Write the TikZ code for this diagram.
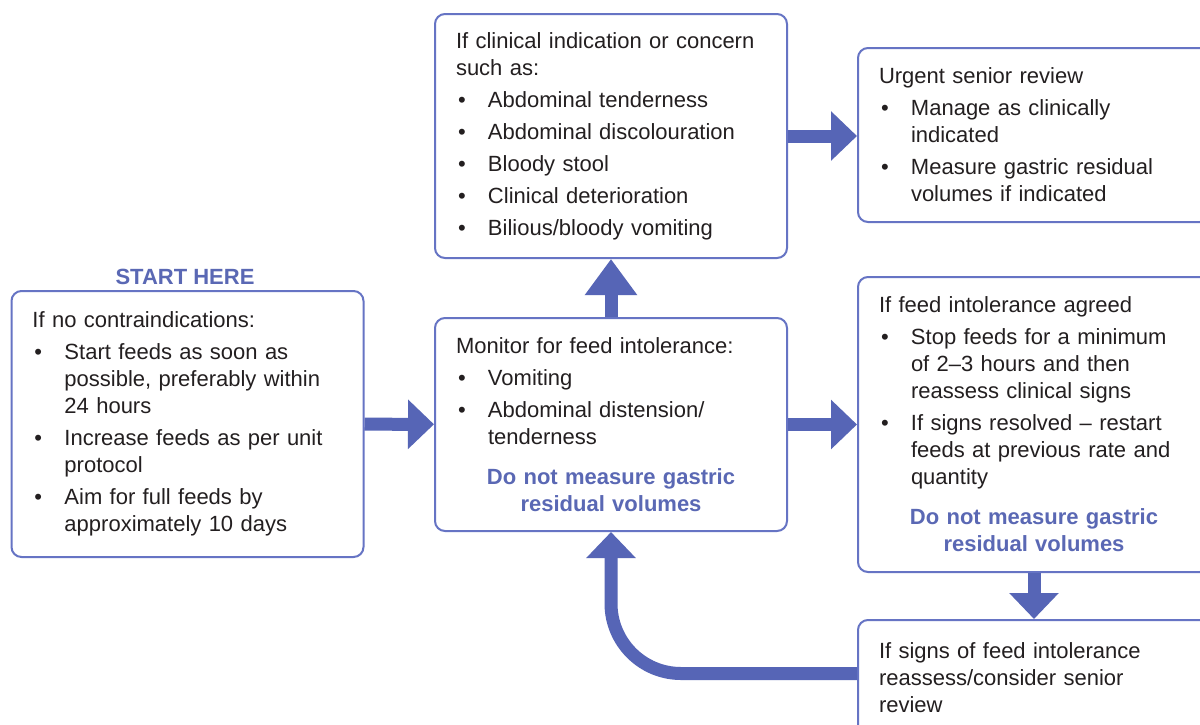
\documentclass[tikz,border=0pt]{standalone}
\usepackage{fontspec}
\setmainfont{Liberation Sans}
\usetikzlibrary{arrows.meta,positioning}
\definecolor{boxline}{HTML}{6674C4}
\definecolor{arrowfill}{HTML}{5665B6}
\definecolor{accent}{HTML}{5A68B4}
\definecolor{bodytext}{HTML}{231F20}
\newcommand{\bitem}[1]{\par\vspace{2.5pt}\hangindent=16pt\hangafter=1\noindent
  \makebox[16pt][l]{\hspace{1pt}\textbullet}#1\par}
\newcommand{\warn}{\par\vspace{6.5pt}{\centering\bfseries\color{accent}Do not measure gastric\\residual volumes\par}}
\tikzset{
  stepbox/.style={draw=boxline, line width=1pt, rounded corners=5pt, fill=white,
    text width=155pt, inner xsep=10.5pt, minimum width=176pt, align=left,
    font=\fontsize{11pt}{13.5pt}\selectfont, text=bodytext},
  fat/.style={draw=arrowfill, line width=6.5pt, -{Triangle[width=24pt,length=13pt]}},
}

\begin{document}
\begin{tikzpicture}[x=0.5pt,y=-0.5pt]
\path[use as bounding box, fill=white] (0,0) rectangle (1200,724);
\clip (0,0) rectangle (1200,724);

\node[stepbox, minimum height=133pt] (start) at (187.5,424) {If no contraindications:
  \bitem{Start feeds as soon as\newline possible, preferably within\newline 24 hours}
  \bitem{Increase feeds as per unit\newline protocol}
  \bitem{Aim for full feeds by\newline approximately 10 days}};
\node[font=\fontsize{11pt}{13.5pt}\selectfont\bfseries, text=accent] (starthere) at (185,277) {START HERE};

\node[stepbox, minimum height=122pt] (concern) at (611,136) {If clinical indication or concern\newline such as:
  \bitem{Abdominal tenderness}
  \bitem{Abdominal discolouration}
  \bitem{Bloody stool}
  \bitem{Clinical deterioration}
  \bitem{Bilious/bloody vomiting}};

\node[stepbox, minimum height=106.5pt] (monitor) at (611,424.5) {Monitor for feed intolerance:
  \bitem{Vomiting}
  \bitem{Abdominal distension/\newline tenderness}
  \warn};

\node[stepbox, minimum height=87pt] (urgent) at (1034,135) {Urgent senior review
  \bitem{Manage as clinically\newline indicated}
  \bitem{Measure gastric residual\newline volumes if indicated}};

\node[stepbox, minimum height=147.5pt] (intol) at (1034,424.5) {If feed intolerance agreed
  \bitem{Stop feeds for a minimum\newline of 2--3 hours and then\newline reassess clinical signs}
  \bitem{If signs resolved -- restart\newline feeds at previous rate and\newline quantity}
  \warn};

\node[stepbox, minimum height=57.5pt] (signs) at (1034,677.5) {If signs of feed intolerance\newline reassess/consider senior\newline review};

\draw[fat] (start) -- (monitor);
\draw[fat, -{Triangle[width=25pt,length=18pt]}] (monitor) -- (concern);
\draw[fat] (concern.east) -- (concern.east -| urgent.west);
\draw[fat] (monitor) -- (intol);
\draw[fat] (intol) -- (signs);
\draw[fat, rounded corners=35pt] ([yshift=2pt]signs.west) -| (monitor.south);
\end{tikzpicture}
\end{document}
